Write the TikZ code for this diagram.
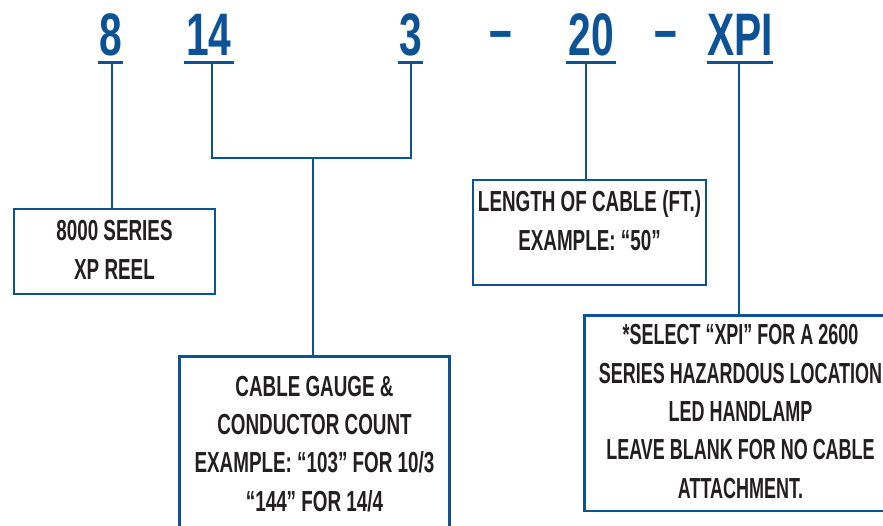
\documentclass[tikz,border=0pt]{standalone}
\usepackage{fontspec}
\setmainfont{Liberation Sans}[BoldFont={Liberation Sans Bold}]
\newfontfamily\partfont{Liberation Sans Bold}[FakeStretch=0.68]
\newfontfamily\boxfont{Liberation Sans Bold}[FakeStretch=0.65]
\newfontfamily\boxfontnarrow{Liberation Sans Bold}[FakeStretch=0.62]
\definecolor{pblue}{RGB}{12,82,150}
\definecolor{ptext}{RGB}{35,31,32}
\tikzset{
  partnum/.style={inner sep=0pt, anchor=base, text depth=7pt, text=pblue,
    font=\partfont\fontsize{60}{60}\selectfont},
  partdash/.style={inner sep=0pt, anchor=base, text=pblue, yshift=5pt,
    font=\partfont\fontsize{60}{60}\selectfont},
  uline/.style={draw=pblue, line width=3pt},
  conn/.style={draw=pblue, line width=2.2pt},
  infobox/.style={draw=pblue, line width=2.5pt, rectangle, inner sep=0pt},
  boxtext/.style={inner sep=0pt, anchor=base, align=center, text=ptext,
    font=\boxfont\fontsize{29}{38.3}\selectfont},
  boxtextnarrow/.style={boxtext, font=\boxfontnarrow\fontsize{29}{38.3}\selectfont},
}
\begin{document}
\begin{tikzpicture}[x=1pt,y=-1pt]
\clip (0,0) rectangle (883,525);
\fill[white] (0,0) rectangle (883,525);

% part number
\node[partnum, minimum width=25pt] (n8)  at (110.5,55) {8};
\node[partnum, minimum width=50pt] (n14) at (209,55) {14};
\node[partnum, minimum width=25pt] (n3)  at (410.5,55) {3};
\node[partdash] (d1) at (500.5,55) {–};
\node[partnum, minimum width=50pt] (n20) at (591,55) {20};
\node[partdash] (d2) at (666,55) {–};
\node[partnum, minimum width=64pt] (nxpi) at (740,55) {XPI};

\foreach \n in {n8,n14,n3,n20,nxpi}
  \draw[uline] (\n.south west) -- (\n.south east);

% boxes
\node[infobox, minimum width=201pt, minimum height=85pt] (series) at (114.5,251.5) {};
\node[infobox, minimum width=233pt, minimum height=105pt] (length) at (589.5,232.5) {};
\node[infobox, minimum width=270pt, minimum height=220pt, anchor=north] (gauge) at (314.5,355) {};
\node[infobox, minimum width=320pt, minimum height=195.5pt, anchor=north west] (xpi) at (583,314) {};

% box texts (anchor base = baseline of the last line)
\node[boxtext] (t1) at (114.5,279) {8000 SERIES\\XP REEL};
\node[boxtext] (t2) at (314.5,511) {CABLE GAUGE \&\\CONDUCTOR COUNT\\EXAMPLE: “103” FOR 10/3\\“144” FOR 14/4};
\node[boxtext] (t3) at (589.5,250) {LENGTH OF CABLE (FT.)\\EXAMPLE: “50”};
\node[boxtextnarrow] (t4) at (740.5,498) {*SELECT “XPI” FOR A 2600\\SERIES HAZARDOUS LOCATION\\LED HANDLAMP\\LEAVE BLANK FOR NO CABLE\\ATTACHMENT.};

% connectors
\draw[conn] ([xshift=1.5pt]n8.south) -- ([xshift=1.5pt]n8.south |- series.north);
\coordinate (mid) at (313,158);
\draw[conn] ([xshift=3pt]n14.south) |- (mid) -| ([xshift=0.5pt]n3.south);
\draw[conn] (mid) -- (mid |- gauge.north);
\draw[conn] ([xshift=-5pt]n20.south) -- ([xshift=-5pt]n20.south |- length.north);
\draw[conn] ([xshift=-1pt]nxpi.south) -- ([xshift=-1pt]nxpi.south |- xpi.north);
\end{tikzpicture}
\end{document}
